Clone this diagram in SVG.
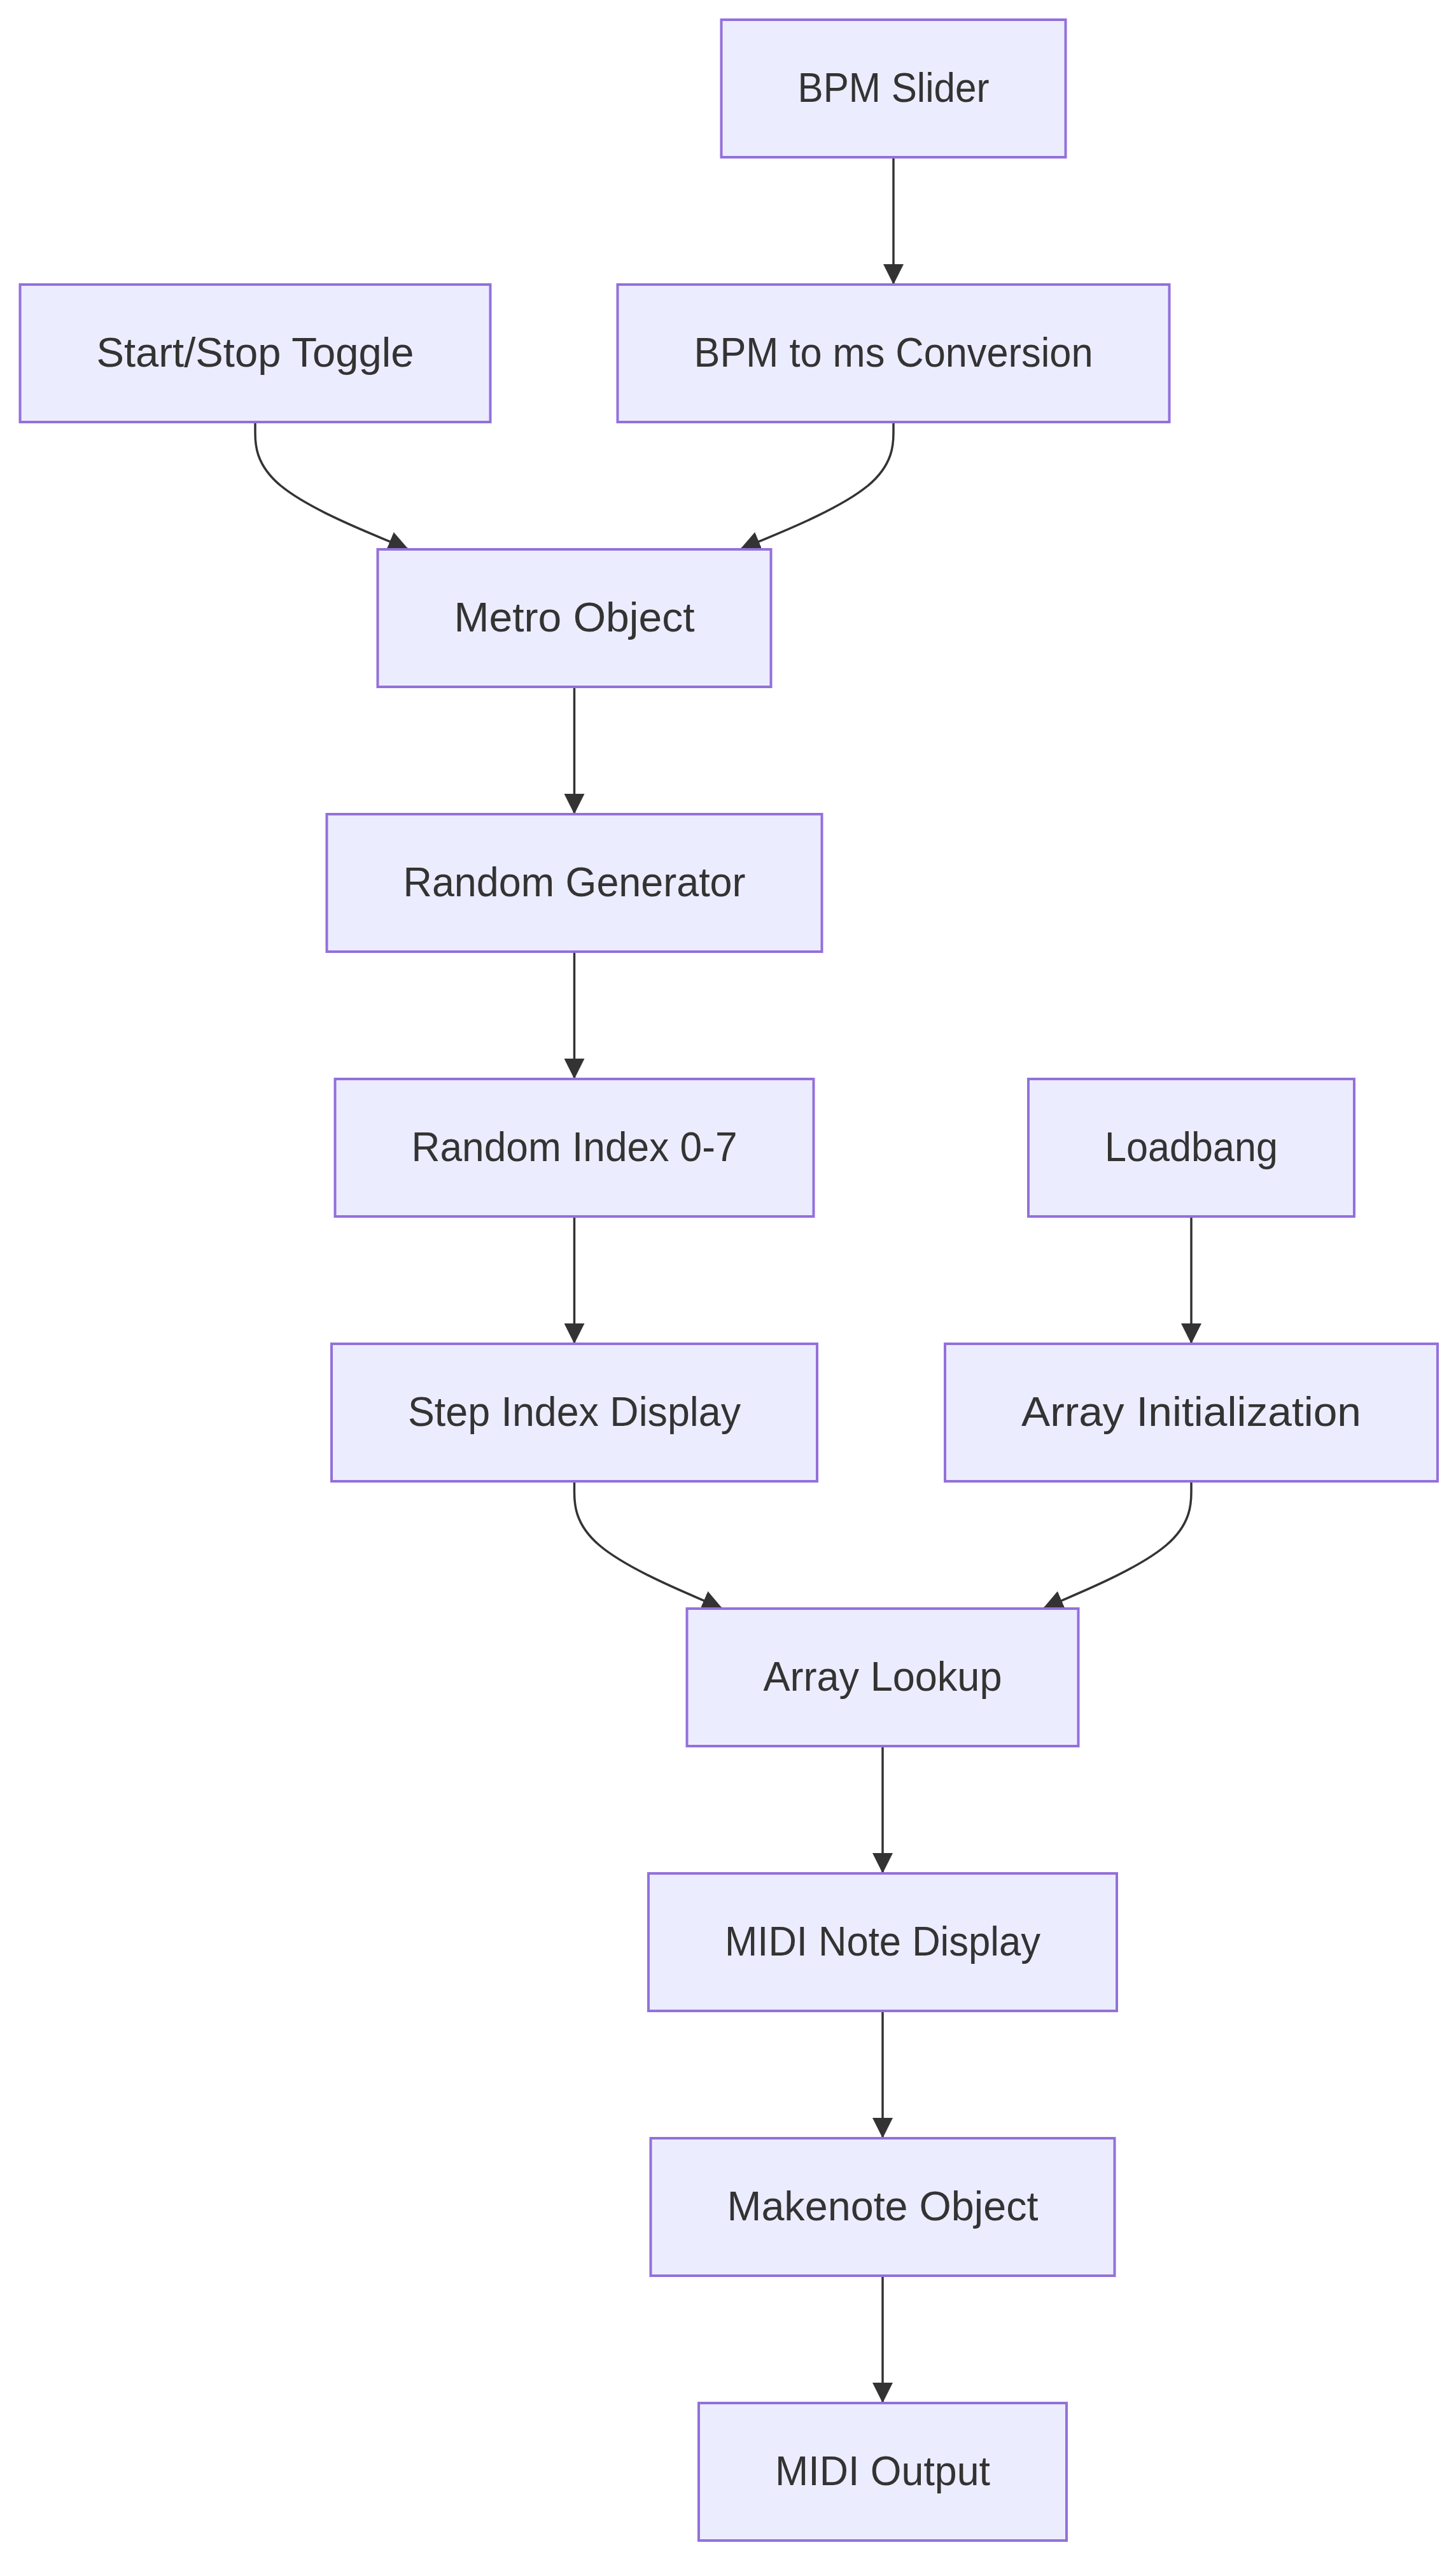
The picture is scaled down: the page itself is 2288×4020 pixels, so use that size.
<svg xmlns="http://www.w3.org/2000/svg" width="2288" height="4020" viewBox="0 0 2288 4020">
<style>
.node rect{fill:#ECECFF;stroke:#9370DB;stroke-width:4}
.node text{font-family:"Liberation Sans","DejaVu Sans",Arial,sans-serif;font-size:64px;fill:#333333;text-anchor:middle}
.edge{fill:none;stroke:#333333;stroke-width:3.5}
</style>
<defs>
<marker id="arrow" viewBox="0 0 10 10" refX="10" refY="5" markerUnits="userSpaceOnUse" markerWidth="32" markerHeight="32" orient="auto">
<path d="M0,0 L10,5 L0,10 z" fill="#333333"/>
</marker>
</defs>
<rect width="2288" height="4020" fill="#ffffff"/>
<g id="edges">
<path class="edge" marker-end="url(#arrow)" d="M1404,247 L1404,447"/>
<path class="edge" marker-end="url(#arrow)" d="M401,663 L401,679.7 C401,696.3 401,729.7 441.2,763 C481.4,796.3 561.7,829.7 601.9,846.3 L642.1,863"/>
<path class="edge" marker-end="url(#arrow)" d="M1404,663 L1404,679.7 C1404,696.3 1404,729.7 1363.8,763 C1323.6,796.3 1243.3,829.7 1203.1,846.3 L1162.9,863"/>
<path class="edge" marker-end="url(#arrow)" d="M902.5,1079 L902.5,1279"/>
<path class="edge" marker-end="url(#arrow)" d="M902.5,1495 L902.5,1695"/>
<path class="edge" marker-end="url(#arrow)" d="M902.5,1911 L902.5,2111"/>
<path class="edge" marker-end="url(#arrow)" d="M1872,1911 L1872,2111"/>
<path class="edge" marker-end="url(#arrow)" d="M902.5,2327 L902.5,2343.7 C902.5,2360.3 902.5,2393.7 941.3,2427 C980.1,2460.3 1057.8,2493.7 1096.6,2510.3 L1135.4,2527"/>
<path class="edge" marker-end="url(#arrow)" d="M1872,2327 L1872,2343.7 C1872,2360.3 1872,2393.7 1833.1,2427 C1794.3,2460.3 1716.5,2493.7 1677.7,2510.3 L1638.8,2527"/>
<path class="edge" marker-end="url(#arrow)" d="M1387,2743 L1387,2943"/>
<path class="edge" marker-end="url(#arrow)" d="M1387,3159 L1387,3359"/>
<path class="edge" marker-end="url(#arrow)" d="M1387,3575 L1387,3775"/>
</g>
<g id="bpm-slider" class="node"><rect x="1133.5" y="31" width="541" height="216"/><text x="1404" y="159.5" textLength="301" lengthAdjust="spacingAndGlyphs">BPM Slider</text></g>
<g id="start-stop-toggle" class="node"><rect x="31.5" y="447" width="739" height="216"/><text x="401" y="575.5" textLength="499" lengthAdjust="spacingAndGlyphs">Start/Stop Toggle</text></g>
<g id="bpm-to-ms" class="node"><rect x="970.5" y="447" width="867" height="216"/><text x="1404" y="575.5" textLength="627" lengthAdjust="spacingAndGlyphs">BPM to ms Conversion</text></g>
<g id="metro-object" class="node"><rect x="593.5" y="863" width="618" height="216"/><text x="902.5" y="991.5" textLength="378" lengthAdjust="spacingAndGlyphs">Metro Object</text></g>
<g id="random-generator" class="node"><rect x="513.5" y="1279" width="778" height="216"/><text x="902.5" y="1407.5" textLength="538" lengthAdjust="spacingAndGlyphs">Random Generator</text></g>
<g id="random-index" class="node"><rect x="526.5" y="1695" width="752" height="216"/><text x="902.5" y="1823.5" textLength="512" lengthAdjust="spacingAndGlyphs">Random Index 0-7</text></g>
<g id="loadbang" class="node"><rect x="1616" y="1695" width="512" height="216"/><text x="1872" y="1823.5" textLength="272" lengthAdjust="spacingAndGlyphs">Loadbang</text></g>
<g id="step-index-display" class="node"><rect x="521" y="2111" width="763" height="216"/><text x="902.5" y="2239.5" textLength="523" lengthAdjust="spacingAndGlyphs">Step Index Display</text></g>
<g id="array-initialization" class="node"><rect x="1485" y="2111" width="774" height="216"/><text x="1872" y="2239.5" textLength="534" lengthAdjust="spacingAndGlyphs">Array Initialization</text></g>
<g id="array-lookup" class="node"><rect x="1079.5" y="2527" width="615" height="216"/><text x="1387" y="2655.5" textLength="375" lengthAdjust="spacingAndGlyphs">Array Lookup</text></g>
<g id="midi-note-display" class="node"><rect x="1019" y="2943" width="736" height="216"/><text x="1387" y="3071.5" textLength="496" lengthAdjust="spacingAndGlyphs">MIDI Note Display</text></g>
<g id="makenote-object" class="node"><rect x="1022.5" y="3359" width="729" height="216"/><text x="1387" y="3487.5" textLength="489" lengthAdjust="spacingAndGlyphs">Makenote Object</text></g>
<g id="midi-output" class="node"><rect x="1098" y="3775" width="578" height="216"/><text x="1387" y="3903.5" textLength="338" lengthAdjust="spacingAndGlyphs">MIDI Output</text></g>
</svg>
